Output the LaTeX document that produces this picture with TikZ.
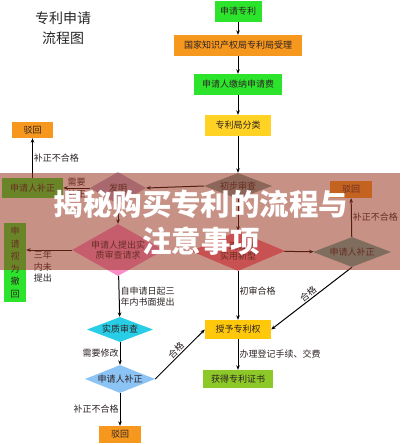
\documentclass[tikz,border=0pt]{standalone}
\usepackage{fontspec}
\newfontfamily\cjk{Noto Sans CJK SC}
\usetikzlibrary{shapes.geometric,arrows.meta}
\definecolor{gbright}{RGB}{45,228,45}
\definecolor{orng}{RGB}{247,152,30}
\definecolor{yel}{RGB}{255,210,35}
\definecolor{gold}{RGB}{255,200,10}
\definecolor{ygreen}{RGB}{140,200,40}
\definecolor{teal1}{RGB}{120,160,155}
\definecolor{mauve}{RGB}{185,165,200}
\definecolor{pink1}{RGB}{250,140,200}
\definecolor{redp}{RGB}{255,115,140}
\definecolor{grayt}{RGB}{95,175,165}
\definecolor{cyan1}{RGB}{40,205,230}
\definecolor{lblue}{RGB}{140,195,245}
\definecolor{band}{RGB}{155,55,35}
\definecolor{txt}{RGB}{45,35,35}
\begin{document}
\begin{tikzpicture}[x=1pt,y=-1pt,
 bx/.style={rectangle, inner sep=0pt, font=\cjk\fontsize{9}{10}\selectfont, text=txt},
 dm/.style={diamond, inner sep=0pt, font=\cjk\fontsize{9}{10.5}\selectfont, text=txt, align=center},
 arr/.style={-{Stealth[length=4.5pt,width=3.6pt]}, line width=1pt, black},
 lbl/.style={font=\cjk\fontsize{9}{11.5}\selectfont, text=txt, inner sep=1pt},
]
\fill[white] (0,0) rectangle (400,445);
\useasboundingbox (0,0) rectangle (400,445);

% title
\node[font=\cjk\fontsize{14}{20}\selectfont, text=black!85, align=center] (title) at (63,28) {专利申请\\流程图};

% main column
\node[bx, fill=gbright, minimum width=47pt, minimum height=21pt] (n1) at (238,11) {申请专利};
\node[bx, fill=orng, minimum width=128pt, minimum height=21pt] (n2) at (238,45.5) {国家知识产权局专利局受理};
\node[bx, fill=gbright, minimum width=88pt, minimum height=21pt] (n3) at (238,84.5) {申请人缴纳申请费};
\node[bx, fill=yel, minimum width=66pt, minimum height=21pt] (n4) at (238,125.5) {专利局分类};
\node[dm, fill=teal1, minimum width=68pt, minimum height=26pt, aspect=2.6] (d1) at (238,186) {初步审查};
\node[dm, fill=redp, minimum width=94pt, minimum height=40pt, aspect=2.35] (d2) at (238,251) {外观设计\\实用新型};
\node[dm, fill=grayt, minimum width=78pt, minimum height=30pt, aspect=2.6] (d3) at (352,252) {申请人补正};
\node[bx, fill=orng, minimum width=42pt, minimum height=17pt] (b1) at (351,189.5) {驳回};
\node[bx, fill=gold, minimum width=66pt, minimum height=19pt] (n5) at (238,329.5) {授予专利权};
\node[bx, fill=ygreen, minimum width=70pt, minimum height=18pt] (n6) at (238,379) {获得专利证书};

% left part
\node[dm, fill=mauve, minimum width=56pt, minimum height=32pt, aspect=1.75] (d4) at (118,188) {发明};
\node[bx, fill=gbright, minimum width=61pt, minimum height=20pt] (b2) at (32.5,188) {申请人补正};
\node[bx, fill=orng, minimum width=41pt, minimum height=16pt] (b3) at (32.5,130) {驳回};
\node[dm, fill=pink1, minimum width=92pt, minimum height=52pt, aspect=1.77] (d5) at (118,250) {申请人提出实\\质审查请求};
\node[bx, fill=gbright, minimum width=22pt, minimum height=79pt, align=center, font=\cjk\fontsize{9}{12.5}\selectfont] (b4) at (15,262.5) {申\\请\\视\\为\\撤\\回};
\node[dm, fill=cyan1, minimum width=66pt, minimum height=25pt, aspect=2.64] (d6) at (120,329.5) {实质审查};
\node[dm, fill=lblue, minimum width=70pt, minimum height=28pt, aspect=2.5] (d7) at (120,379) {申请人补正};
\node[bx, fill=orng, minimum width=42pt, minimum height=17pt] (b5) at (120,434.5) {驳回};

% connectors main column
\draw[arr] (n1) -- (n2);
\draw[arr] (n2) -- (n3);
\draw[arr] (n3) -- (n4);
\draw[arr] (n4) -- (d1);
\draw[arr] (d1) -- (d2);
\draw[arr] (d2) -- (d3);
\draw[arr] (d3) -- node[lbl, right] {补正不合格} (b1);
\draw[arr] (d3.south) -- node[lbl, sloped, above] {合格} (n5.east);
\draw[arr] (d2) -- node[lbl, right, pos=0.4] {初审合格} (n5);
\draw[arr] (n5) -- node[lbl, right] {办理登记手续、交费} (n6);

% connectors left part
\draw[arr] (d1.west) -- (d4.east);
\draw[arr] (d4.west) -- node[lbl, above] {需要} node[lbl, below] {补正} (b2.east);
\draw[arr] (b2) -- node[lbl, right] {补正不合格} (b3);
\draw[arr] (d4) -- (d5);
\draw[arr] (d5.west) -- (b4.east |- d5.west);
\node[lbl, align=center, anchor=north] (l3y) at (43,250) {三年\\内未\\提出};
\draw[arr] (d5) -- node[lbl, right, align=left] {自申请日起三\\年内书面提出} (d6);
\draw[arr] (d6) -- node[lbl, left] {需要修改} (d7);
\draw[arr] (d7.east) -- node[lbl, sloped, above] {合格} (n5.west);
\draw[arr] (d7) -- node[lbl, left] {补正不合格} (b5);

% overlay banner
\fill[band, opacity=0.55] (0,173) rectangle (400,270);
\node[font=\cjk\bfseries\fontsize{29.5}{36}\selectfont, text=white, inner sep=0pt] (h1) at (201,204) {揭秘购买专利的流程与};
\node[font=\cjk\bfseries\fontsize{29.5}{36}\selectfont, text=white, inner sep=0pt] (h2) at (201,241) {注意事项};
\end{tikzpicture}
\end{document}
